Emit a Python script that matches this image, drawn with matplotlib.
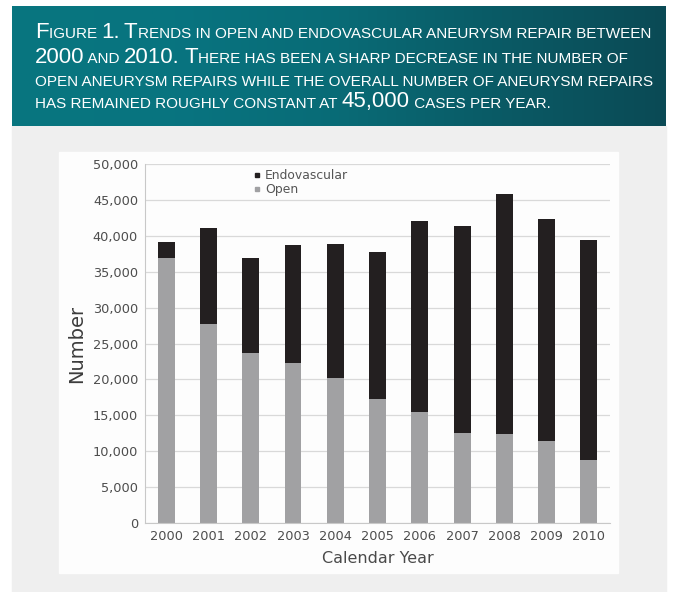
import numpy as np
import matplotlib
matplotlib.use("Agg")
import matplotlib.pyplot as plt
from matplotlib.colors import LinearSegmentedColormap
from matplotlib.lines import Line2D
from matplotlib.patches import Rectangle
from matplotlib.ticker import FuncFormatter

# repairs per calendar year
years = ["2000", "2001", "2002", "2003", "2004", "2005",
         "2006", "2007", "2008", "2009", "2010"]
open_cases = [36900, 27700, 23700, 22300, 20200, 17300,
              15400, 12600, 12400, 11400, 8750]
endo_cases = [2200, 13400, 13200, 16400, 18650, 20500,
              26700, 28700, 33400, 30900, 30700]
series_names = ["Endovascular", "Open"]

caption_lines = [
    "Figure 1. Trends in open and endovascular aneurysm repair between",
    "2000 and 2010. There has been a sharp decrease in the number of",
    "open aneurysm repairs while the overall number of aneurysm repairs",
    "has remained roughly constant at 45,000 cases per year.",
]

W, H = 682, 592
fig = plt.figure(figsize=(W / 100, H / 100), dpi=100)
fig.patch.set_facecolor("white")


def fbox(x0, y0, x1, y1):
    # pixel box (top-left origin) -> figure fraction rect
    return [x0 / W, 1 - y1 / H, (x1 - x0) / W, (y1 - y0) / H]


# grey panel and white card behind the chart
fig.add_artist(Rectangle((12 / W, 0), (666 - 12) / W, 1 - 126 / H,
                         transform=fig.transFigure, color="#efefef", zorder=-3))
fig.add_artist(Rectangle((59 / W, 1 - 573 / H), (618 - 59) / W, (573 - 152) / H,
                         transform=fig.transFigure, color="#fdfdfd", zorder=-2))

# teal header band with a left-to-right gradient
hdr = fig.add_axes(fbox(12, 6, 666, 126))
teal = LinearSegmentedColormap.from_list(
    "teal", ["#08767f", "#087480", "#096b76", "#0a5a65", "#0b4a55"])
hdr.imshow(np.linspace(0, 1, 256)[None, :], cmap=teal, aspect="auto",
           extent=[0, 1, 0, 1])
hdr.axis("off")

# small-caps caption built from runs of two sizes
cap_font = "Liberation Sans"
renderer = fig.canvas.get_renderer()


def advance(s, size):
    t = fig.text(0, 0, "|" + s + "|", fontsize=size, family=cap_font)
    w = t.get_window_extent(renderer).width
    t.set_text("||")
    w0 = t.get_window_extent(renderer).width
    t.remove()
    return w - w0


def runs(line):
    out = []
    prev_big = False
    for ch in line:
        big = ch.isupper() or ch.isdigit() or (ch in ".," and prev_big)
        prev_big = big
        txt = ch if big else ch.upper()
        if out and out[-1][1] == big:
            out[-1][0] += txt
        else:
            out.append([txt, big])
    return out


big_size, small_size = 14.4, 9.9
line1 = sum(advance(t, big_size if b else small_size) for t, b in runs(caption_lines[0]))
k = 617 / line1
big_size, small_size = big_size * k, small_size * k

for line, base in zip(caption_lines, [37.5, 63, 85.5, 107.5]):
    x = 35
    for txt, big in runs(line):
        size = big_size if big else small_size
        fig.text(x / W, 1 - base / H, txt, fontsize=size, family=cap_font,
                 color="white", va="baseline", ha="left")
        x += advance(txt, size)

# stacked bars
ax = fig.add_axes(fbox(145, 164, 610, 523))
ax.set_facecolor("none")
x = np.arange(len(years))
ax.bar(x, open_cases, 0.4, color="#a1a1a3", zorder=2)
ax.bar(x, endo_cases, 0.4, bottom=open_cases, color="#231f20", zorder=2)

ax.set_xlim(-0.5, len(years) - 0.5)
ax.set_ylim(0, 50000)
ax.set_yticks(range(0, 50001, 5000))
ax.yaxis.set_major_formatter(FuncFormatter(lambda v, _: f"{int(v):,}"))
ax.set_xticks(x)
ax.set_xticklabels(years)
ax.set_axisbelow(True)
ax.grid(axis="y", color="#d9d9d9", lw=0.9)
for side in ["top", "right"]:
    ax.spines[side].set_visible(False)
for side in ["left", "bottom"]:
    ax.spines[side].set_color("#c8c8c8")
ax.tick_params(length=0, labelsize=9.3, labelcolor="#4d4d4d")
ax.tick_params(axis="y", pad=5)
ax.tick_params(axis="x", pad=5)

ax.set_ylabel("Number", fontsize=14, color="#3c3c3c", labelpad=5)
ax.set_xlabel("Calendar Year", fontsize=11.5, color="#4a4a4a", labelpad=6)

handles = [Line2D([], [], marker="s", ls="", color="#231f20", markersize=3.5),
           Line2D([], [], marker="s", ls="", color="#a1a1a3", markersize=3.5)]
ax.legend(handles, series_names, loc="upper left", bbox_to_anchor=(0.235, 0.985),
          frameon=False, fontsize=8.9, labelcolor="#555555", handlelength=0.5,
          handletextpad=0.35, labelspacing=0.05, borderaxespad=0, borderpad=0)

fig.savefig("out.png", dpi=100)
